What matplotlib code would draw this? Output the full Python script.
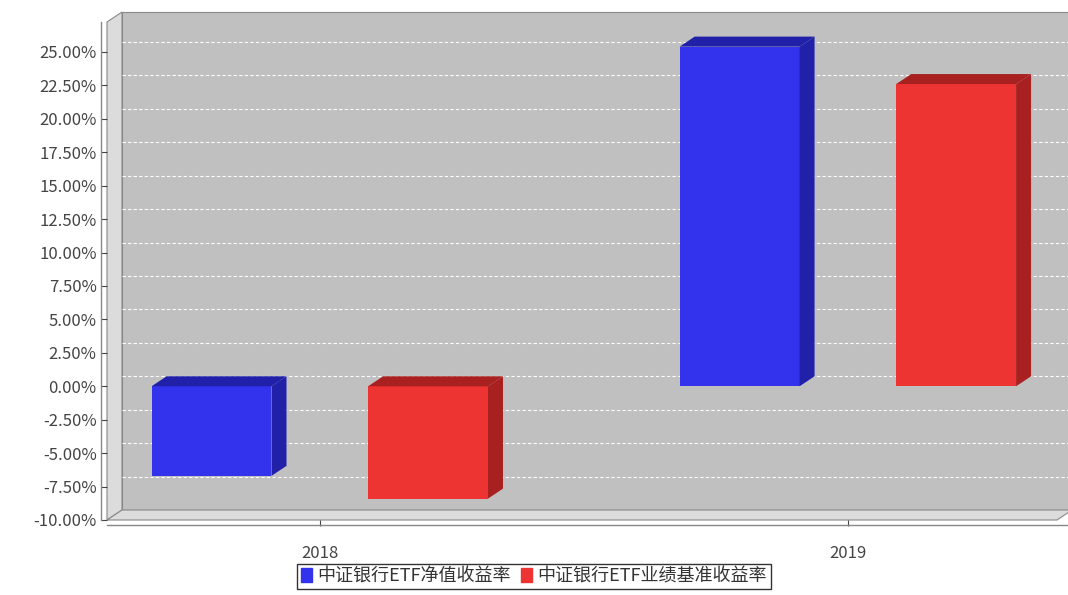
import matplotlib.pyplot as plt
from matplotlib.patches import Polygon
from matplotlib.ticker import FuncFormatter

plt.rcParams['font.family'] = ['Noto Sans CJK SC', 'DejaVu Sans']

years = ['2018', '2019']
series = ['中证银行ETF净值收益率', '中证银行ETF业绩基准收益率']
nav = [-6.7, 25.4]
bench = [-8.4, 22.6]
face = ['#3333ee', '#ee3333']
side = ['#2020a8', '#a82020']

W, H = 1068, 595
fig = plt.figure(figsize=(W / 100, H / 100), dpi=100)
L, R, B, T = 107, 1057, 520, 22
ax = fig.add_axes([L / W, 1 - B / H, (R - L) / W, (B - T) / H])
ax.set_xlim(-0.403, 1.396)
ax.set_ylim(-10, 27.24)
ppx = 528.0            # pixels per category
ppy = (B - T) / 37.24  # pixels per percent
dx, dy = 15 / ppx, 10 / ppy
x0, x1 = ax.get_xlim()
y0, y1 = ax.get_ylim()

ax.set_facecolor('none')
for s in ax.spines.values():
    s.set_visible(False)

# back wall, left wall, floor
ax.add_patch(Polygon([(x0 + dx, y0 + dy), (x1 + dx, y0 + dy), (x1 + dx, y1 + dy), (x0 + dx, y1 + dy)],
                     closed=True, fc='#c0c0c0', ec='#888888', lw=0.8, clip_on=False, zorder=0))
ax.add_patch(Polygon([(x0, y0), (x0 + dx, y0 + dy), (x0 + dx, y1 + dy), (x0, y1)],
                     closed=True, fc='#dcdcdc', ec='#888888', lw=0.8, clip_on=False, zorder=0))
ax.add_patch(Polygon([(x0, y0), (x1, y0), (x1 + dx, y0 + dy), (x0 + dx, y0 + dy)],
                     closed=True, fc='#dcdcdc', ec='#888888', lw=0.8, clip_on=False, zorder=0))

ticks = [-10 + 2.5 * i for i in range(15)]
for t in ticks[1:]:
    ax.plot([x0 + dx, x1 + dx], [t + dy, t + dy], color='white', lw=0.8, ls=(0, (3, 2)),
            clip_on=False, zorder=1)

width = 0.227
offs = [-0.205, 0.205]
for k, vals in enumerate([nav, bench]):
    for i, v in enumerate(vals):
        xl = i + offs[k] - width / 2
        xr = xl + width
        top = max(v, 0)
        ax.bar(xl, v, width=width, align='edge', color=face[k], zorder=3)
        ax.add_patch(Polygon([(xl, top), (xr, top), (xr + dx, top + dy), (xl + dx, top + dy)],
                             closed=True, fc=side[k], ec='none', zorder=3))
        ax.add_patch(Polygon([(xr, 0), (xr, v), (xr + dx, v + dy), (xr + dx, dy)],
                             closed=True, fc=side[k], ec='none', zorder=3))

ax.set_yticks(ticks)
ax.yaxis.set_major_formatter(FuncFormatter(lambda v, p: f'{v:.2f}%'))
ax.set_xticks([0, 1])
ax.set_xticklabels(years)
ax.tick_params(axis='both', labelsize=12, colors='#444444', length=4)
ax.tick_params(axis='x', pad=14)
ax.plot([x0 - 0.012, x0 - 0.012], [y0, y1], color='#888888', lw=1, clip_on=False)
ax.plot([x0, x1 + dx], [y0 - 0.35, y0 - 0.35], color='#888888', lw=1, clip_on=False)

handles = [plt.Rectangle((0, 0), 1, 1, color=c) for c in face]
leg = fig.legend(handles, series, loc='lower center', bbox_to_anchor=(0.5, -0.005), ncol=2,
                 frameon=True, fancybox=False, edgecolor='black', fontsize=13,
                 handlelength=0.6, handleheight=0.8, handletextpad=0.3, columnspacing=0.6,
                 borderpad=0.2, labelcolor='#333333')
leg.get_frame().set_linewidth(1)

fig.savefig('out.png', dpi=100, facecolor='white')
